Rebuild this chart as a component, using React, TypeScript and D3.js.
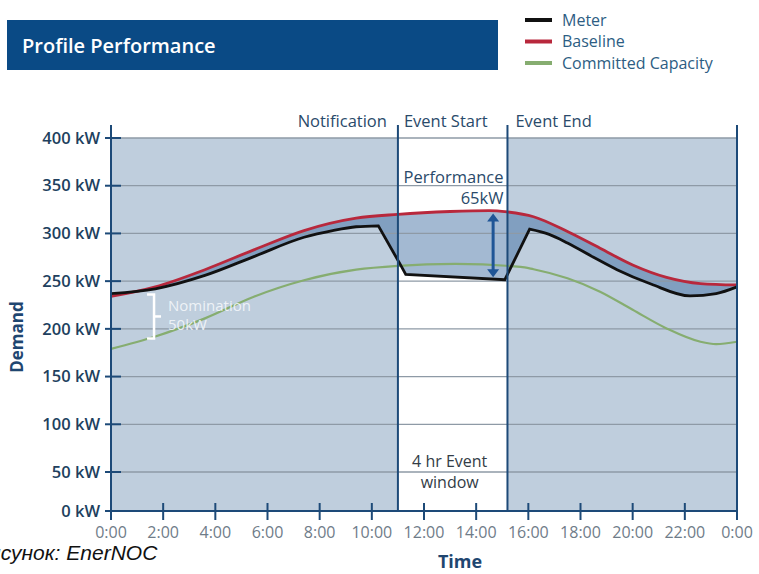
import * as d3 from 'd3';

// demand axis (kW) and time axis (hours)
const demandTicks = [0, 50, 100, 150, 200, 250, 300, 350, 400];
const timeTicks = [0, 2, 4, 6, 8, 10, 12, 14, 16, 18, 20, 22, 24];
const timeLabels = ['0:00', '2:00', '4:00', '6:00', '8:00', '10:00', '12:00', '14:00', '16:00', '18:00', '20:00', '22:00', '0:00'];

const baselineHours = [0, 1.7, 3.6, 5.5, 7.4, 9.4, 11, 13, 14.5, 15.2, 16.2, 17.5, 18.75, 20, 21.3, 22.6, 24];
const baselineKw = [234, 244, 262, 283, 303, 316, 320, 323, 324, 322.5, 317.5, 302, 284.5, 267, 254, 247.5, 246];

const capacityHours = [0, 1.7, 3.6, 5.5, 7.4, 9.4, 11, 13.2, 15.7, 16.2, 17.5, 18.75, 20, 21.3, 22.6, 23.2, 24];
const capacityKw = [179, 192, 211, 234, 251, 262, 266, 268, 265, 262.5, 253, 239, 220, 200.5, 186.5, 184, 186.5];

const meterHours = [0, 1.7, 3.6, 5.5, 7.4, 8.5, 9.4, 10.25, 11.1, 11.3, 15.1, 16.05, 16.8, 17.5, 18.5, 19.4, 20.7, 22.2, 23.2, 24];
const meterKw = [237, 242, 256, 276, 296, 303, 307, 308, 267, 257, 251.5, 304.5, 299, 290, 275, 262, 247, 234.5, 237, 244];

// curtailment: meter drops after notification, recovers after event end
const rampFrom = 10.25;
const rampTo = 16.05;

const notificationHour = 11;
const eventEndHour = 15.2;

const W = 759;
const H = 574;
const NAVY = '#1d4a78';
const FONT = '"Open Sans", "Noto Sans", sans-serif';

type Pt = { h: number; v: number };
const zip = (hs: number[], vs: number[]): Pt[] => hs.map((h, i) => ({ h, v: vs[i] }));

export default function App() {
  const x = d3.scaleLinear().domain([0, 24]).range([111, 737]);
  const y = d3.scaleLinear().domain([0, 50, 400]).range([511, 472, 138]);

  const top = y(400);
  const bottom = y(0);
  const axisTop = 125;

  const baseline = zip(baselineHours, baselineKw);
  const capacity = zip(capacityHours, capacityKw);
  const meter = zip(meterHours, meterKw);

  const smooth = d3.line<Pt>().x((d) => x(d.h)).y((d) => y(d.v)).curve(d3.curveMonotoneX);
  const straight = d3.line<Pt>().x((d) => x(d.h)).y((d) => y(d.v));

  const meterPath =
    (smooth(meter.filter((d) => d.h <= rampFrom)) || '') +
    (straight(meter.filter((d) => d.h >= rampFrom && d.h <= rampTo)) || '').replace(/^M/, 'L') +
    (smooth(meter.filter((d) => d.h >= rampTo)) || '').replace(/^M/, 'L');

  const aboveMeter = `${meterPath}L${x(24)},${top - 20}L${x(0)},${top - 20}Z`;

  const underBaseline = d3
    .area<Pt>()
    .x((d) => x(d.h))
    .y0(bottom)
    .y1((d) => y(d.v))
    .curve(d3.curveMonotoneX)(baseline) || '';

  const xN = x(notificationHour);
  const xE = x(eventEndHour);

  const legend = [
    { name: 'Meter', color: '#111111' },
    { name: 'Baseline', color: '#b8283c' },
    { name: 'Committed Capacity', color: '#86ad70' },
  ];

  const arrowX = x(14.65);
  const arrowTop = y(321);
  const arrowBottom = y(254);

  const nomX = x(1.65);
  const nomTop = y(236);
  const nomBottom = y(190);

  return (
    <svg width={W} height={H} style={{ position: 'absolute', left: 0, top: 0 }} fontFamily={FONT}>
      <defs>
        <clipPath id="above-meter">
          <path d={aboveMeter} />
        </clipPath>
      </defs>
      <rect width={W} height={H} fill="#ffffff" />

      {/* title bar */}
      <rect x={7} y={20} width={491} height={50} fill="#0a4a85" />
      <text x={22} y={53} fill="#ffffff" fontSize={20} fontWeight={600}>
        Profile Performance
      </text>

      {/* legend */}
      {legend.map((l, i) => (
        <g key={l.name} transform={`translate(525,${20 + i * 21.5})`}>
          <line x1={0} x2={27} y1={0} y2={0} stroke={l.color} strokeWidth={4} />
          <text x={37} y={5.5} fontSize={16} fill="#2d5d83">
            {l.name}
          </text>
        </g>
      ))}

      {/* plot backgrounds */}
      <rect x={x(0)} y={top} width={x(24) - x(0)} height={bottom - top} fill="#bfcedd" />
      <rect x={xN} y={top} width={xE - xN} height={bottom - top} fill="#ffffff" />

      {/* band between baseline and meter */}
      <path d={underBaseline} fill="rgb(63,109,161)" fillOpacity={0.48} clipPath="url(#above-meter)" />

      {/* grid */}
      {demandTicks.filter((t) => t > 0).map((t) => (
        <line key={t} x1={x(0)} x2={x(24)} y1={y(t)} y2={y(t)} stroke="#8e9aa6" strokeWidth={1.3} />
      ))}

      {/* series */}
      <path d={smooth(capacity) || ''} fill="none" stroke="#86ad70" strokeWidth={2.2} />
      <path d={smooth(baseline) || ''} fill="none" stroke="#b8283c" strokeWidth={2.8} />
      <path d={meterPath} fill="none" stroke="#111111" strokeWidth={2.8} strokeLinejoin="miter" />

      {/* axes and event lines */}
      <line x1={x(0)} x2={x(0)} y1={axisTop} y2={bottom} stroke={NAVY} strokeWidth={2} />
      <line x1={x(24)} x2={x(24)} y1={axisTop} y2={bottom + 9} stroke={NAVY} strokeWidth={2} />
      <line x1={xN} x2={xN} y1={axisTop} y2={bottom} stroke={NAVY} strokeWidth={2} />
      <line x1={xE} x2={xE} y1={axisTop} y2={bottom} stroke={NAVY} strokeWidth={2} />
      <line x1={x(0)} x2={x(24)} y1={bottom} y2={bottom} stroke={NAVY} strokeWidth={2} />

      {demandTicks.map((t) => (
        <g key={t}>
          <line x1={x(0) - 6} x2={x(0) + 10} y1={y(t)} y2={y(t)} stroke={NAVY} strokeWidth={2} />
          <text x={x(0) - 11} y={y(t)} dy="0.35em" textAnchor="end" fontSize={16.5} fontWeight={600} fill="#213f5e">
            {`${t} kW`}
          </text>
        </g>
      ))}

      {timeTicks.map((t, i) => (
        <g key={i}>
          <line x1={x(t)} x2={x(t)} y1={bottom - 8} y2={bottom + 9} stroke={NAVY} strokeWidth={2} />
          <text x={x(t)} y={538} textAnchor="middle" fontSize={16} fill="#6f7c89">
            {timeLabels[i]}
          </text>
        </g>
      ))}

      <text transform="translate(23,337) rotate(-90)" textAnchor="middle" fontSize={17} fontWeight={700} fill="#1f4670">
        Demand
      </text>
      <text x={460} y={568} textAnchor="middle" fontSize={18} fontWeight={700} fill="#1f4670">
        Time
      </text>

      {/* event labels */}
      <g fontSize={16.5} fill="#2a4a6a">
        <text x={xN - 11} y={127} textAnchor="end">Notification</text>
        <text x={xN + 6} y={127}>Event Start</text>
        <text x={xE + 8} y={127}>Event End</text>
      </g>

      {/* performance annotation */}
      <g fontSize={16.5} fill="#2a4a6a" textAnchor="end">
        <text x={xE - 4} y={183}>Performance</text>
        <text x={xE - 4} y={204}>65kW</text>
      </g>
      <g stroke="#1f5596" fill="#1f5596">
        <line x1={arrowX} x2={arrowX} y1={arrowTop + 6} y2={arrowBottom - 6} strokeWidth={3} />
        <path d={`M${arrowX},${arrowTop}l-6,8h12z`} stroke="none" />
        <path d={`M${arrowX},${arrowBottom}l-6,-8h12z`} stroke="none" />
      </g>

      {/* nomination bracket */}
      <g stroke="#ffffff" strokeWidth={2.5} fill="none">
        <path d={`M${nomX - 7},${nomTop}H${nomX}V${nomBottom}H${nomX - 7}`} />
        <path d={`M${nomX},${(nomTop + nomBottom) / 2}H${nomX + 7}`} />
      </g>
      <g fontSize={15} fill="#f4f7fa" fillOpacity={0.9}>
        <text x={nomX + 14} y={311}>Nomination</text>
        <text x={nomX + 14} y={330}>50kW</text>
      </g>

      {/* event window note */}
      <g fontSize={16} fill="#333c46" textAnchor="middle">
        <text x={(xN + xE) / 2 - 3} y={467}>4 hr Event</text>
        <text x={(xN + xE) / 2 - 3} y={488}>window</text>
      </g>

      <text x={-25} y={560} fontSize={21} fontStyle="italic" fontFamily='"Liberation Sans", Arial, sans-serif' fill="#111111">
        Рисунок: EnerNOC
      </text>
    </svg>
  );
}
